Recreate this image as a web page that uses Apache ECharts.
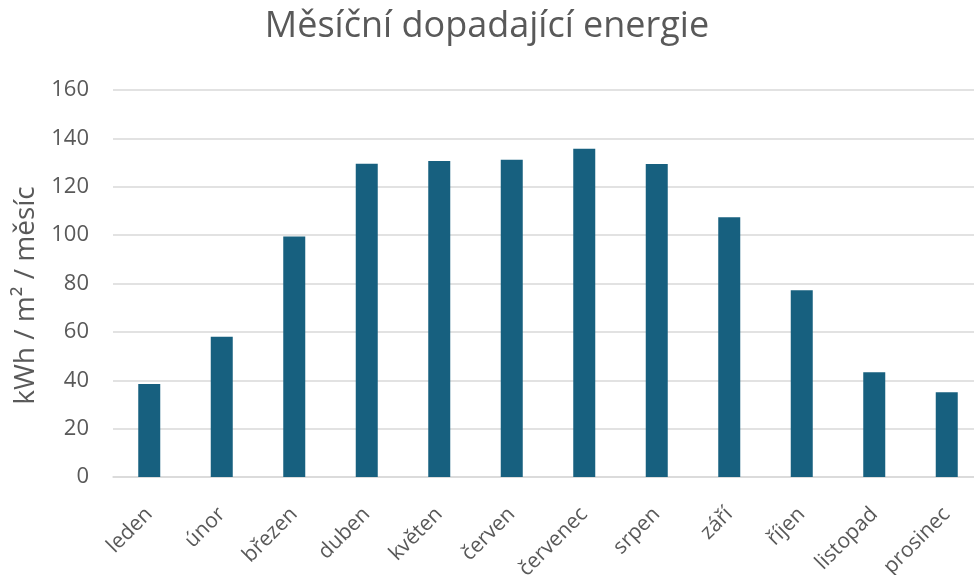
<!DOCTYPE html>
<html>
<head>
<meta charset="utf-8">
<script src="https://cdn.jsdelivr.net/npm/echarts@6/dist/echarts.min.js"></script>
<style>
  html, body { margin: 0; padding: 0; background: #fff; }
  #main { width: 974px; height: 575px; }
</style>
</head>
<body>
<div id="main"></div>
<script>
// data
const months = ['leden', 'únor', 'březen', 'duben', 'květen', 'červen',
    'červenec', 'srpen', 'září', 'říjen', 'listopad', 'prosinec'];
const energy = [38.5, 58, 99.4, 129.5, 130.6, 131.2, 135.7, 129.4, 107.4, 77.2, 43.3, 35];
const yTicks = { min: 0, max: 160, interval: 20 };

const chart = echarts.init(document.getElementById('main'));
const font = 'Open Sans, Noto Sans, sans-serif';

chart.setOption({
    animation: false,
    title: {
        text: 'Měsíční dopadající energie',
        left: 'center', top: 4,
        padding: [5, 5, 5, 21],
        textStyle: { fontFamily: font, fontSize: 36, fontWeight: 'normal', color: '#595959' }
    },
    grid: { left: 113, right: -9, top: 90, bottom: 98, containLabel: false, outerBoundsMode: 'none' },
    xAxis: {
        type: 'category',
        data: months,
        axisTick: { show: false },
        axisLine: { lineStyle: { color: '#d9d9d9', width: 1.5 } },
        axisLabel: {
            rotate: 45, interval: 0, margin: 34,
            fontFamily: font, fontSize: 21, color: '#595959'
        }
    },
    yAxis: {
        type: 'value',
        min: yTicks.min, max: yTicks.max, interval: yTicks.interval,
        name: 'kWh / m² / měsíc',
        nameLocation: 'middle', nameGap: 72,
        nameTextStyle: { fontFamily: font, fontSize: 28, color: '#595959', padding: [0, 24, 0, 0] },
        axisLabel: { fontFamily: font, fontSize: 22, color: '#595959', margin: 24 },
        splitLine: { lineStyle: { color: '#d9d9d9', width: 1.5 } }
    },
    series: [{
        type: 'bar',
        data: energy,
        barWidth: 22,
        itemStyle: { color: '#17607f' }
    }]
});
</script>
</body>
</html>
